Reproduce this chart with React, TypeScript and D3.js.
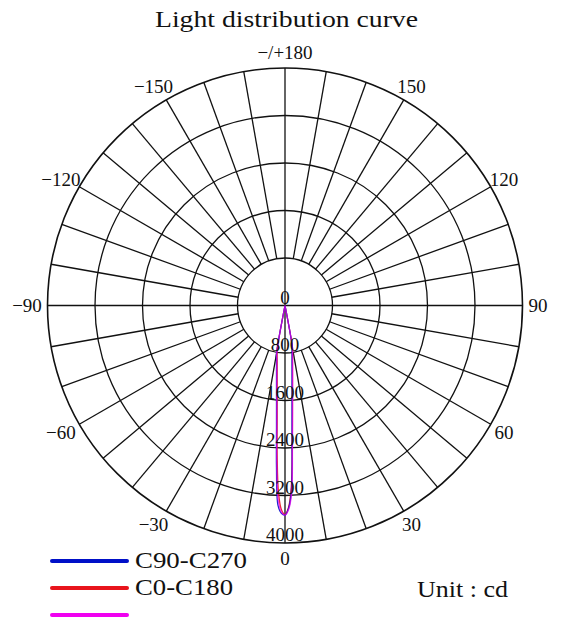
import React from "react";
import * as d3 from "d3";

// ---- data ----
const ringValues = [0, 800, 1600, 2400, 3200, 4000];
const angleTicks = [0, 30, 60, 90, 120, 150, 180, -150, -120, -90, -60, -30];
const angleLabels = ["0", "30", "60", "90", "120", "150", "−/+180", "−150", "−120", "−90", "−60", "−30"];
const curveAngles = [-12, -10, -9, -8, -7, -6, -5, -4, -3, -2, -1, 0, 1, 2, 3, 4, 5, 6, 7, 8, 9, 10, 12];
const c90c270 = [0, 825, 915, 1028, 1174, 1370, 1640, 2050, 2737, 3370, 3500, 3530, 3420, 3115, 2253, 1689, 1352, 1128, 967, 847, 753, 679, 0];
const c0c180 = [0, 760, 850, 950, 1080, 1260, 1510, 1890, 2520, 3150, 3440, 3520, 3400, 3050, 2350, 1800, 1450, 1210, 1035, 905, 805, 725, 0];
const cMagenta = [0, 800, 890, 1000, 1140, 1330, 1590, 1990, 2650, 3280, 3480, 3530, 3440, 3180, 2400, 1830, 1470, 1225, 1050, 920, 815, 735, 0];
const legendNames = ["C90-C270", "C0-C180", ""];
const seriesColors = ["#0010c8", "#e8141c", "#f000f0"];

const W = 561, H = 635;
const cx = 285, cy = 305.5;
const R = 237.5;
const FONT = "Liberation Serif, Times New Roman, serif";

export default function App() {
  const r = d3.scaleLinear().domain([0, 4000]).range([0, R]);
  const toRad = (deg: number) => (deg * Math.PI) / 180;
  const px = (deg: number, rad: number) => cx + rad * Math.sin(toRad(deg));
  const py = (deg: number, rad: number) => cy + rad * Math.cos(toRad(deg));

  const radial = d3
    .lineRadial<[number, number]>()
    .angle((d) => Math.PI - toRad(d[0]))
    .radius((d) => r(d[1]))
    .curve(d3.curveCatmullRom.alpha(0.5));

  const series = [c0c180, c90c270, cMagenta];
  const seriesCol = [seriesColors[1], seriesColors[0], seriesColors[2]];

  const spokes = d3.range(0, 360, 10);
  const inner = r(800);
  const ts = { fontFamily: FONT };

  return (
    <svg width={W} height={H} style={{ position: "absolute", left: 0, top: 0, background: "#fff" }}>
      <rect x={0} y={0} width={W} height={H} fill="#fff" />
      <text x={286.5} y={27} textAnchor="middle" style={ts} fontSize={24} textLength={263} lengthAdjust="spacingAndGlyphs" fill="#111">
        Light distribution curve
      </text>

      {ringValues.slice(1).map((v) => (
        <circle key={v} cx={cx} cy={cy} r={r(v)} fill="none" stroke="#111" strokeWidth={v === 4000 ? 1.6 : 1.3} />
      ))}
      {spokes.map((a) => {
        const r0 = a % 90 === 0 ? 0 : inner;
        return (
          <line key={a} x1={px(a, r0)} y1={py(a, r0)} x2={px(a, R)} y2={py(a, R)} stroke="#111" strokeWidth={1.3} />
        );
      })}

      {angleTicks.map((a, i) => (
        <text
          key={a}
          x={px(a, 253) + (a < 0 ? -5 : 0)}
          y={py(a, 253)}
          textAnchor="middle"
          dominantBaseline="central"
          style={ts}
          fontSize={19}
          fill="#111"
        >
          {angleLabels[i]}
        </text>
      ))}

      {series.map((vals, i) => (
        <path
          key={i}
          d={radial(curveAngles.map((a, j) => [a, vals[j]] as [number, number])) || ""}
          transform={`translate(${cx},${cy})`}
          fill="none"
          stroke={seriesCol[i]}
          strokeWidth={1.3}
          strokeOpacity={i === 2 ? 0.7 : 0.9}
        />
      ))}

      {ringValues.map((v) => (
        <text key={v} x={cx} y={cy + r(v) - 2} textAnchor="middle" style={ts} fontSize={19} fill="#111">
          {v}
        </text>
      ))}

      {legendNames.map((name, i) => (
        <g key={i}>
          <line x1={52} x2={127} y1={561 + i * 27} y2={561 + i * 27} stroke={seriesColors[i]} strokeWidth={4} strokeLinecap="round" />
          {name && (
            <text x={135} y={567.5 + i * 27} style={ts} fontSize={23} textLength={name.length > 7 ? 112 : 98} lengthAdjust="spacingAndGlyphs" fill="#111">
              {name}
            </text>
          )}
        </g>
      ))}

      <text x={417} y={597} style={ts} fontSize={24} textLength={91} lengthAdjust="spacingAndGlyphs" fill="#111">
        Unit : cd
      </text>
    </svg>
  );
}
